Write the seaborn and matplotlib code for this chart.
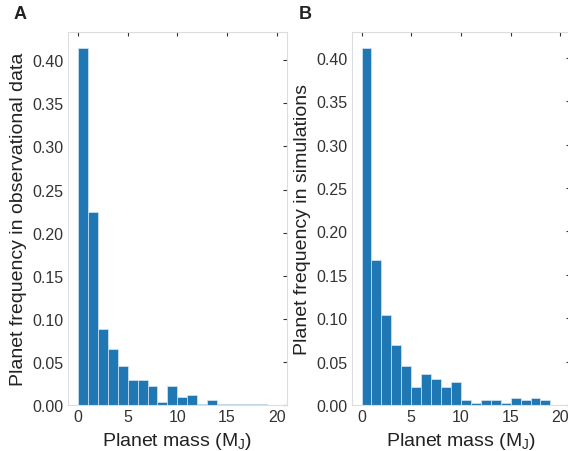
import numpy as np
import matplotlib
matplotlib.use("Agg")
import matplotlib.pyplot as plt
import seaborn as sns

# bin lower edges (planet mass in Jupiter masses), bins of width 1
mass_bins = list(range(0, 19))

# panel A: frequency in observational data
freq_obs = [0.414, 0.224, 0.0885, 0.065, 0.045, 0.029, 0.029, 0.0215, 0.003,
            0.0215, 0.0088, 0.0115, 0.0016, 0.006, 0.0016, 0.0016, 0.0016,
            0.0016, 0.0016]

# panel B: frequency in simulations
freq_sim = [0.411, 0.1667, 0.104, 0.069, 0.0444, 0.0207, 0.0353, 0.030, 0.0207,
            0.026, 0.0054, 0.0018, 0.0054, 0.0054, 0.0018, 0.008, 0.0054,
            0.008, 0.0054]

ylabels = ["Planet frequency in observational data",
           "Planet frequency in simulations"]
panel_letters = ["A", "B"]
xticks = [0, 5, 10, 15, 20]
yticks = [0.0, 0.05, 0.10, 0.15, 0.20, 0.25, 0.30, 0.35, 0.40]

sns.set_style("white")
plt.rcParams["font.family"] = ["Liberation Sans", "DejaVu Sans"]
plt.rcParams["mathtext.fontset"] = "custom"
plt.rcParams["mathtext.rm"] = "Liberation Sans"
plt.rcParams["mathtext.it"] = "Liberation Sans:italic"

fig = plt.figure(figsize=(5.68, 4.52), dpi=100)
ax_a = fig.add_axes([0.1197, 0.1018, 0.385, 0.825])
ax_b = fig.add_axes([0.619, 0.1018, 0.385, 0.825])

centers = np.array(mass_bins) + 0.5
edges = list(range(0, 20))

for ax, freqs, ylab, letter in zip([ax_a, ax_b], [freq_obs, freq_sim],
                                   ylabels, panel_letters):
    sns.histplot(x=centers, weights=freqs, bins=edges, ax=ax,
                 color="#1f77b4", alpha=1.0, edgecolor="#d6e6f2", linewidth=0.5)
    ax.set_xlim(-1, 21)
    ax.set_ylim(0, max(freqs) * 1.045)
    ax.set_xticks(xticks)
    ax.set_yticks(yticks)
    ax.set_yticklabels(["%.2f" % t for t in yticks])
    ax.set_xlabel("Planet mass (M$_\\mathrm{J}$)", fontsize=14, color="#222222")
    ax.set_ylabel(ylab, fontsize=14, color="#222222", labelpad=4)
    ax.tick_params(direction="in", length=3, width=0.8, color="#333333",
                   labelsize=11.5, labelcolor="#333333", top=True, right=True,
                   pad=3)
    for s in ax.spines.values():
        s.set_color("#dddddd")
        s.set_linewidth(0.8)

fig.text(0.035, 0.967, "A", fontsize=13, fontweight="bold", ha="center",
         va="center", color="#222222")
fig.text(0.537, 0.967, "B", fontsize=13, fontweight="bold", ha="center",
         va="center", color="#222222")

fig.savefig("out.png", dpi=100)
